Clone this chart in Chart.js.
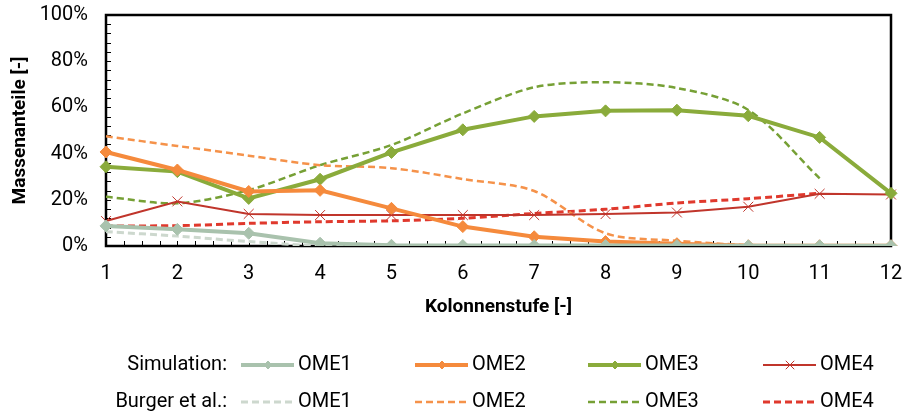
<!DOCTYPE html>
<html>
<head>
<meta charset="utf-8">
<script src="https://cdn.jsdelivr.net/npm/chart.js@4.4.0/dist/chart.umd.min.js"></script>
<style>
  html, body { margin: 0; padding: 0; background: #fff; }
</style>
</head>
<body>
<canvas id="chart" width="906" height="413"></canvas>
<script>
// Kolonnenstufen (x-Achse)
const stages = ['1', '2', '3', '4', '5', '6', '7', '8', '9', '10', '11', '12'];
const yTicks = [0, 20, 40, 60, 80, 100];

// Simulation, Massenanteile in %
const simOME1 = [8.7, 7.2, 5.5, 1.2, 0.3, 0.2, 0.2, 0.2, 0.2, 0.1, 0.1, 0.1];
const simOME2 = [40.7, 32.9, 23.6, 24.1, 16.3, 8.4, 4.0, 1.9, 1.0, 0.1, 0.1, 0.1];
const simOME3 = [34.3, 32.2, 20.6, 28.9, 40.5, 50.3, 56.1, 58.5, 58.8, 56.4, 47.0, 22.8];
const simOME4 = [10.8, 19.3, 13.9, 13.4, 13.4, 13.4, 13.4, 13.8, 14.5, 17.0, 22.6, 22.3];

// Burger et al., Massenanteile in %
const burgerOME1 = [6.2, 4.3, 1.9, 0.1, 0, 0, 0, 0, 0, 0, 0, null];
const burgerOME2 = [47.5, 43.3, 39.1, 35.0, 33.7, 29.0, 23.8, 5.5, 2.3, 0.4, 0, null];
const burgerOME3 = [21.3, 18.5, 24.2, 35.0, 43.7, 57.4, 68.7, 70.9, 68.4, 58.9, 29.3, null];
const burgerOME4 = [8.7, 8.8, 9.8, 10.5, 10.9, 12.0, 14.1, 15.9, 18.6, 20.5, 22.8, null];

const FONT = 'Roboto, "Open Sans", sans-serif';

function simSet(label, data, color, width, style, radius) {
    return {
        label: label, group: 'sim', data: data,
        borderColor: color, backgroundColor: color,
        borderWidth: width, pointStyle: style, pointRadius: radius,
        pointBorderWidth: 1,
        pointHoverRadius: radius, tension: 0
    };
}

function burgerSet(label, data, color, width) {
    return {
        label: label, group: 'burger', data: data,
        borderColor: color, backgroundColor: color,
        borderWidth: width, borderDash: [7, 4], pointRadius: 0,
        tension: 0.3, spanGaps: false
    };
}

// Rahmen + nach innen zeigende Teilstriche
const framePlugin = {
    id: 'framePlugin',
    beforeDatasetsDraw(chart) {
        const { ctx, chartArea: a, scales: { x, y } } = chart;
        ctx.save();
        ctx.strokeStyle = '#000';
        ctx.lineWidth = 1;
        ctx.beginPath();
        for (let v = 0; v <= 100; v += 4) {
            const py = Math.round(y.getPixelForValue(v)) + 0.5;
            ctx.moveTo(a.left, py);
            ctx.lineTo(a.left + 5, py);
        }
        const step = x.getPixelForValue(1) - x.getPixelForValue(0);
        for (let i = 0; i < stages.length - 1; i++) {
            for (let k = 0; k < 4; k++) {
                const px = Math.round(x.getPixelForValue(i) + k * step / 4) + 0.5;
                ctx.moveTo(px, a.bottom);
                ctx.lineTo(px, a.bottom - 5);
            }
        }
        ctx.stroke();
        ctx.lineWidth = 2.5;
        ctx.strokeRect(a.left, a.top, a.right - a.left, a.bottom - a.top);
        ctx.restore();
    }
};

// Zweizeilige Legende wie im Original
const legendPlugin = {
    id: 'legendPlugin',
    afterDraw(chart) {
        const { ctx } = chart;
        const rows = [
            { group: 'sim', title: 'Simulation:', y: 365 },
            { group: 'burger', title: 'Burger et al.:', y: 402 }
        ];
        const cols = [241, 415, 588, 763];
        ctx.save();
        ctx.font = '20px ' + FONT;
        ctx.textBaseline = 'middle';
        rows.forEach(row => {
            ctx.textAlign = 'right';
            ctx.fillStyle = '#000';
            ctx.fillText(row.title, 227, row.y);
            const sets = chart.data.datasets.filter(d => d.group === row.group);
            sets.forEach((ds, i) => {
                const sx = cols[i];
                ctx.strokeStyle = ds.borderColor;
                ctx.lineWidth = ds.borderWidth;
                ctx.setLineDash(ds.borderDash || []);
                ctx.beginPath();
                ctx.moveTo(sx, row.y);
                ctx.lineTo(sx + 53, row.y);
                ctx.stroke();
                ctx.setLineDash([]);
                if (ds.pointRadius > 0) {
                    ctx.fillStyle = ds.backgroundColor;
                    ctx.lineWidth = ds.pointBorderWidth;
                    Chart.helpers.drawPoint(ctx, {
                        pointStyle: ds.pointStyle,
                        radius: ds.pointStyle === 'crossRot' ? 6 : 4,
                        borderWidth: ds.pointBorderWidth,
                        rotation: 0
                    }, sx + 27, row.y);
                }
                ctx.textAlign = 'left';
                ctx.fillStyle = '#000';
                ctx.fillText(ds.label, sx + 57, row.y);
            });
        });
        ctx.restore();
    }
};

new Chart(document.getElementById('chart'), {
    type: 'line',
    data: {
        labels: stages,
        datasets: [
            simSet('OME1', simOME1, '#a9c2ad', 4, 'rectRot', 6),
            simSet('OME2', simOME2, '#f58a3c', 4, 'rectRot', 6),
            simSet('OME3', simOME3, '#8aab3b', 4, 'rectRot', 6),
            simSet('OME4', simOME4, '#c0352b', 2, 'crossRot', 7),
            burgerSet('OME1', burgerOME1, '#cdd8ce', 3),
            burgerSet('OME2', burgerOME2, '#f5924a', 2.5),
            burgerSet('OME3', burgerOME3, '#76a035', 2.5),
            burgerSet('OME4', burgerOME4, '#e0392d', 3)
        ]
    },
    options: {
        responsive: false,
        animation: false,
        layout: { padding: { top: 15, right: 15, bottom: 93, left: 0 } },
        plugins: {
            legend: { display: false },
            tooltip: { enabled: false }
        },
        scales: {
            x: {
                offset: false,
                grid: { display: false, drawTicks: false },
                border: { display: false },
                ticks: {
                    color: '#000', padding: 16, maxRotation: 0, autoSkip: false,
                    font: { family: FONT, size: 20 }
                },
                title: {
                    display: true, text: 'Kolonnenstufe [-]', color: '#000',
                    padding: { top: 0, bottom: 1 },
                    font: { family: FONT, size: 19, weight: 'bold' }
                },
                afterFit(scale) {
                    scale.height = 74;
                    scale.paddingLeft = 0;
                    scale.paddingRight = 0;
                }
            },
            y: {
                min: 0, max: 100,
                grid: { display: false, drawTicks: false },
                border: { display: false },
                afterBuildTicks(scale) { scale.ticks = yTicks.map(v => ({ value: v })); },
                ticks: {
                    color: '#000', padding: 18,
                    font: { family: FONT, size: 20 },
                    callback: v => v + '%'
                },
                title: {
                    display: true, text: 'Massenanteile [-]', color: '#000',
                    padding: { top: 9, bottom: 0 },
                    font: { family: FONT, size: 19, weight: 'bold' }
                },
                afterFit(scale) {
                    scale.width = 106;
                    scale.paddingTop = 0;
                    scale.paddingBottom = 0;
                }
            }
        }
    },
    plugins: [framePlugin, legendPlugin]
});
</script>
</body>
</html>
